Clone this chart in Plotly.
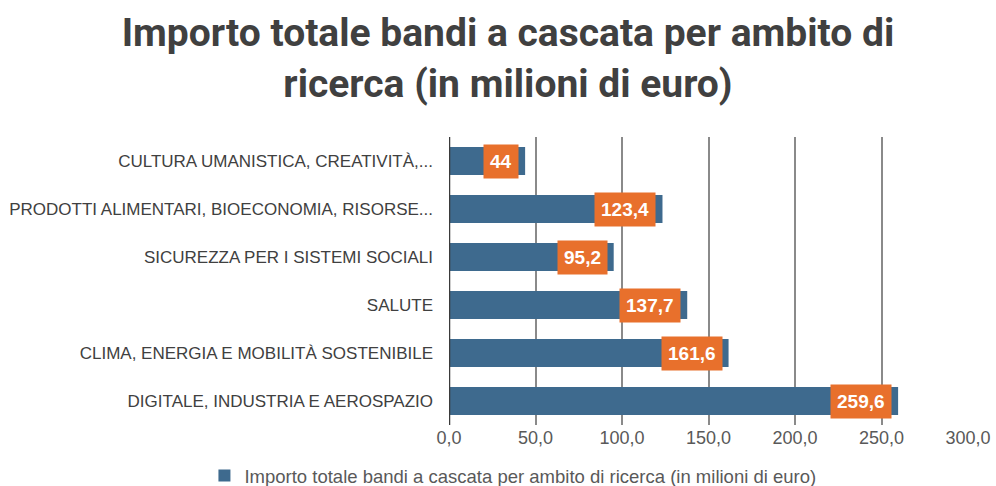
import plotly.graph_objects as go

# Research areas, listed bottom-to-top as they appear on the axis
categories = [
    "DIGITALE, INDUSTRIA E AEROSPAZIO",
    "CLIMA, ENERGIA E MOBILITÀ SOSTENIBILE",
    "SALUTE",
    "SICUREZZA PER I SISTEMI SOCIALI",
    "PRODOTTI ALIMENTARI, BIOECONOMIA, RISORSE...",
    "CULTURA UMANISTICA, CREATIVITÀ,...",
]
# Total amount of cascade calls (million euro)
values = [259.6, 161.6, 137.7, 95.2, 123.4, 44]
x_ticks = [0, 50, 100, 150, 200, 250, 300]

series_name = "Importo totale bandi a cascata per ambito di ricerca (in milioni di euro)"
bar_blue = "#3e6a8e"
label_orange = "#e8702c"


def it_number(v):
    return f"{v:g}".replace(".", ",")


fig = go.Figure()
fig.add_trace(go.Bar(
    x=values,
    y=categories,
    orientation="h",
    name=series_name,
    marker=dict(color=bar_blue, line=dict(width=0)),
    showlegend=True,
))

# Orange value badges sitting at the end of each bar
for cat, v in zip(categories, values):
    fig.add_annotation(
        x=v, y=cat, xref="x", yref="y",
        text=f"<b>{it_number(v)}</b>",
        showarrow=False,
        xanchor="right", yanchor="middle",
        xshift=-6,
        bgcolor=label_orange,
        borderpad=6,
        font=dict(family="Liberation Sans, Arial, sans-serif", size=19, color="white"),
    )

fig.update_layout(
    width=996, height=486,
    margin=dict(l=449, r=28, t=137, b=61, autoexpand=False),
    paper_bgcolor="white",
    plot_bgcolor="white",
    separators=",.",
    bargap=0.42,
    title=dict(
        text="<b>Importo totale bandi a cascata per ambito di<br>ricerca (in milioni di euro)</b>",
        x=0.51, xref="container", xanchor="center",
        y=0.905, yref="container", yanchor="top",
        font=dict(family="Roboto, Liberation Sans, sans-serif", size=39, color="#404040"),
    ),
    font=dict(family="Liberation Sans, Arial, sans-serif", color="#595959"),
    legend=dict(
        orientation="h",
        x=0.515, xref="container", xanchor="center",
        y=-0.177, yref="paper", yanchor="middle",
        font=dict(size=18.5, color="#595959"),
        itemwidth=30,
    ),
    xaxis=dict(
        range=[0, 300],
        tickvals=x_ticks,
        tickformat=".1f",
        showgrid=True,
        gridcolor="#8a8a8a",
        gridwidth=1.5,
        zeroline=False,
        showline=False,
        ticks="",
        tickfont=dict(size=18, color="#595959"),
        automargin=False,
    ),
    yaxis=dict(
        showgrid=False,
        zeroline=False,
        showline=False,
        ticks="",
        ticklabelstandoff=15,
        tickfont=dict(family="Liberation Sans, Arial, sans-serif", size=17, color="#404040"),
        automargin=False,
    ),
)

# Dark baseline at zero
fig.add_shape(type="line", xref="x", yref="paper", x0=0, x1=0, y0=0, y1=1,
              line=dict(color="#3a3a3a", width=2.5), layer="above")

fig.write_html("out.html")
